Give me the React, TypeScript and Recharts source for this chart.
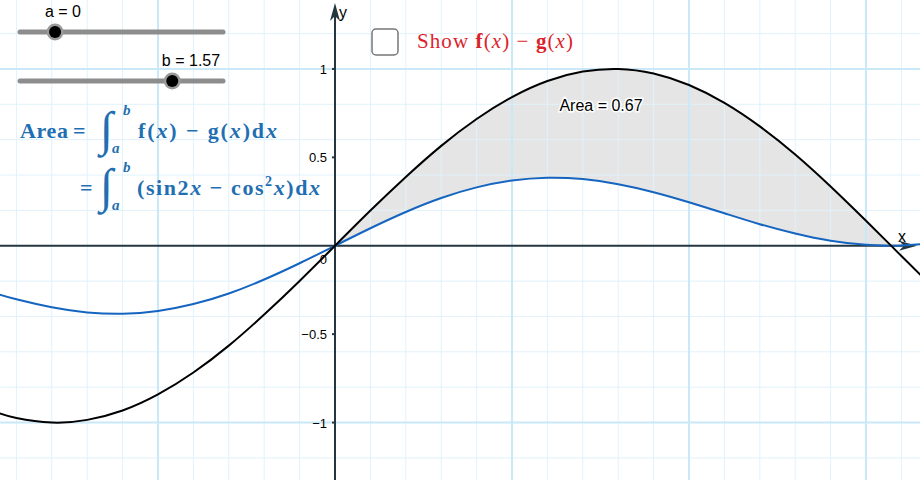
import React from "react";
import {
  ComposedChart,
  Line,
  Area,
  XAxis,
  YAxis,
  ReferenceLine,
  ReferenceDot,
} from "recharts";

// sample points
const xValues = [
  -0.95, -0.9, -0.8, -0.7, -0.6, -0.5, -0.4, -0.3, -0.2, -0.1, 0, 0.1, 0.2, 0.3,
  0.4, 0.5, 0.6, 0.7, 0.8, 0.9, 1.0, 1.1, 1.2, 1.3, 1.4, 1.5, 1.57, 1.6, 1.7,
];
// f(x) – black curve
const fValues = [
  -0.946, -0.974, -1.0, -0.985, -0.932, -0.841, -0.717, -0.565, -0.389, -0.199,
  0, 0.199, 0.389, 0.565, 0.717, 0.841, 0.932, 0.985, 1.0, 0.974, 0.909, 0.808,
  0.675, 0.516, 0.335, 0.141, 0.002, -0.058, -0.256,
];
// g(x) – blue curve
const gValues = [
  -0.275, -0.303, -0.348, -0.377, -0.385, -0.369, -0.33, -0.27, -0.191, -0.099,
  0, 0.099, 0.191, 0.27, 0.33, 0.369, 0.385, 0.377, 0.348, 0.303, 0.246, 0.184,
  0.122, 0.069, 0.028, 0.005, 0, 0.001, 0.016,
];

const aValue = 0;
const bValue = 1.57;
const areaValue = 0.67;

const xDomain = [-0.9463, 1.6525];
const yDomain = [-1.325, 1.39];

const yTicks = [1, 0.5, -0.5, -1];
const yTickLabels = ["1", "0.5", "\u22120.5", "\u22121"];

const majorX = [-0.5, 0.5, 1, 1.5];
const minorX = [
  -0.9, -0.8, -0.7, -0.6, -0.4, -0.3, -0.2, -0.1, 0.1, 0.2, 0.3, 0.4, 0.6, 0.7,
  0.8, 0.9, 1.1, 1.2, 1.3, 1.4, 1.6,
];
const majorY = [1, -1];
const minorY = [1.2, 0.8, 0.6, 0.4, 0.2, -0.2, -0.4, -0.6, -0.8, -1.2];

// slider range (both sliders)
const sliderMin = -0.47;
const sliderMax = 2.25;

const data = xValues.map((x, i) => ({
  x,
  f: fValues[i],
  g: gValues[i],
  band: x >= aValue && x <= bValue ? [gValues[i], fValues[i]] : null,
}));

const axisColor = "#24363f";
const minorColor = "#e0f2fb";
const majorColor = "#c9e8f8";
const mathBlue = "#1f6fb2";
const red = "#dc1f2c";
const sans = "'Liberation Sans', Arial, sans-serif";
const serif = "'Liberation Serif', 'Times New Roman', serif";

function XAxisLine(props: any) {
  const { x1, x2, y1 } = props;
  const left = Math.min(x1, x2);
  const tip = Math.max(x1, x2) - 3;
  return (
    <g>
      <line x1={left} y1={y1} x2={tip - 8} y2={y1} stroke={axisColor} strokeWidth={2} />
      <path
        d={`M${tip},${y1} L${tip - 18},${y1 - 5} L${tip - 13},${y1} L${tip - 18},${y1 + 5} Z`}
        fill={axisColor}
      />
      <text x={tip - 19} y={y1 - 4} fontFamily={sans} fontSize={16} fill="#000">
        x
      </text>
    </g>
  );
}

function YAxisLine(props: any) {
  const { x1, y1, y2 } = props;
  const bottom = Math.max(y1, y2);
  const tip = Math.min(y1, y2) + 3;
  return (
    <g>
      <line x1={x1} y1={bottom} x2={x1} y2={tip + 8} stroke={axisColor} strokeWidth={2} />
      <path
        d={`M${x1},${tip} L${x1 - 5},${tip + 18} L${x1},${tip + 13} L${x1 + 5},${tip + 18} Z`}
        fill={axisColor}
      />
      <text x={x1 + 4} y={tip + 15} fontFamily={sans} fontSize={16} fill="#000">
        y
      </text>
    </g>
  );
}

function yTickShape(label: string) {
  return (props: any) => (
    <g>
      <line x1={props.cx - 3} y1={props.cy} x2={props.cx} y2={props.cy} stroke={axisColor} strokeWidth={2} />
      <text x={props.cx - 8} y={props.cy + 5} textAnchor="end" fontFamily={sans} fontSize={13} fill="#000">
        {label}
      </text>
    </g>
  );
}

function OriginLabel(props: any) {
  return (
    <text x={props.cx - 8} y={props.cy + 18} textAnchor="end" fontFamily={sans} fontSize={13} fill="#000">
      0
    </text>
  );
}

function Slider({ y, value, label, labelX }: { y: number; value: number; label: string; labelX: number }) {
  const x0 = 20;
  const x1 = 223;
  const cx = x0 + ((value - sliderMin) / (sliderMax - sliderMin)) * (x1 - x0);
  return (
    <g>
      <line x1={x0} y1={y} x2={x1} y2={y} stroke="#8d8d8d" strokeWidth={5} strokeLinecap="round" />
      <circle cx={cx} cy={y} r={8.5} fill="#9a9a9a" />
      <circle cx={cx} cy={y} r={6} fill="#000" />
      <text x={labelX} y={y - 15} textAnchor="middle" fontFamily={sans} fontSize={16} fill="#000">
        {label}
      </text>
    </g>
  );
}

function Integral({ x, y }: { x: number; y: number }) {
  return (
    <g fill={mathBlue} fontFamily={serif}>
      <text x={x} y={y + 12} fontSize={48} fontStyle="italic">
        ∫
      </text>
      <text x={x + 23} y={y - 18} fontSize={15} fontStyle="italic" fontWeight="bold">
        b
      </text>
      <text x={x + 12} y={y + 20} fontSize={15} fontStyle="italic" fontWeight="bold">
        a
      </text>
    </g>
  );
}

export default function App() {
  return (
    <div style={{ position: "absolute", left: 0, top: 0, width: 920, height: 480, background: "#fff" }}>
      <ComposedChart width={920} height={480} data={data} margin={{ top: 0, right: 0, bottom: 0, left: 0 }}>
        <XAxis type="number" dataKey="x" domain={xDomain} allowDataOverflow hide />
        <YAxis type="number" domain={yDomain} allowDataOverflow hide />

        {minorX.map((v) => (
          <ReferenceLine key={`mx${v}`} x={v} stroke={minorColor} strokeWidth={1} />
        ))}
        {minorY.map((v) => (
          <ReferenceLine key={`my${v}`} y={v} stroke={minorColor} strokeWidth={1} />
        ))}
        {majorX.map((v) => (
          <ReferenceLine key={`Mx${v}`} x={v} stroke={majorColor} strokeWidth={2} />
        ))}
        {majorY.map((v) => (
          <ReferenceLine key={`My${v}`} y={v} stroke={majorColor} strokeWidth={2} />
        ))}

        <ReferenceLine y={0} shape={XAxisLine} />
        <ReferenceLine x={0} shape={YAxisLine} />
        {yTicks.map((v, i) => (
          <ReferenceDot key={`t${v}`} x={0} y={v} r={0} shape={yTickShape(yTickLabels[i])} />
        ))}
        <ReferenceDot x={0} y={0} r={0} shape={OriginLabel} />

        <Area
          type="natural"
          dataKey="band"
          stroke="none"
          fill="#000"
          fillOpacity={0.1}
          dot={false}
          activeDot={false}
          isAnimationActive={false}
        />
        <Line type="natural" dataKey="g" stroke="#1565c0" strokeWidth={2} dot={false} activeDot={false} isAnimationActive={false} />
        <Line type="natural" dataKey="f" stroke="#000" strokeWidth={2} dot={false} activeDot={false} isAnimationActive={false} />
      </ComposedChart>

      <svg width={920} height={480} style={{ position: "absolute", left: 0, top: 0, pointerEvents: "none" }}>
        <Slider y={32} value={aValue} label={`a = ${aValue}`} labelX={63} />
        <Slider y={81} value={bValue} label={`b = ${bValue}`} labelX={191} />

        {/* checkbox */}
        <rect x={372} y={29} width={26} height={26} rx={4} fill="#fff" stroke="#777" strokeWidth={1.5} />
        <text x={417} y={48} fontFamily={serif} fontSize={21} fill={red} textLength={156} lengthAdjust="spacing">
          Show <tspan fontWeight="bold">f</tspan>(<tspan fontStyle="italic">x</tspan>) − <tspan fontWeight="bold">g</tspan>(<tspan fontStyle="italic">x</tspan>)
        </text>

        {/* area formula */}
        <g fontFamily={serif} fontWeight="bold" fill={mathBlue} fontSize={22}>
          <text x={20} y={138} textLength={48} lengthAdjust="spacing">Area</text>
          <text x={73} y={138}>=</text>
          <text x={138} y={138} textLength={139} lengthAdjust="spacing">
            f(<tspan fontStyle="italic">x</tspan>) − g(<tspan fontStyle="italic">x</tspan>)d<tspan fontStyle="italic">x</tspan>
          </text>
          <text x={80} y={195}>=</text>
          <text x={137} y={195} textLength={183} lengthAdjust="spacing">
            (sin2<tspan fontStyle="italic">x</tspan> − cos<tspan fontSize={14} dy={-9}>2</tspan><tspan dy={9} fontStyle="italic">x</tspan>)d<tspan fontStyle="italic">x</tspan>
          </text>
        </g>
        <Integral x={100} y={133} />
        <Integral x={100} y={190} />

        <text
          x={601}
          y={111}
          textAnchor="middle"
          fontFamily={sans}
          fontSize={16}
          fill="#000"
          stroke="#fff"
          strokeWidth={3}
          paintOrder="stroke"
        >
          Area = {areaValue}
        </text>
      </svg>
    </div>
  );
}
